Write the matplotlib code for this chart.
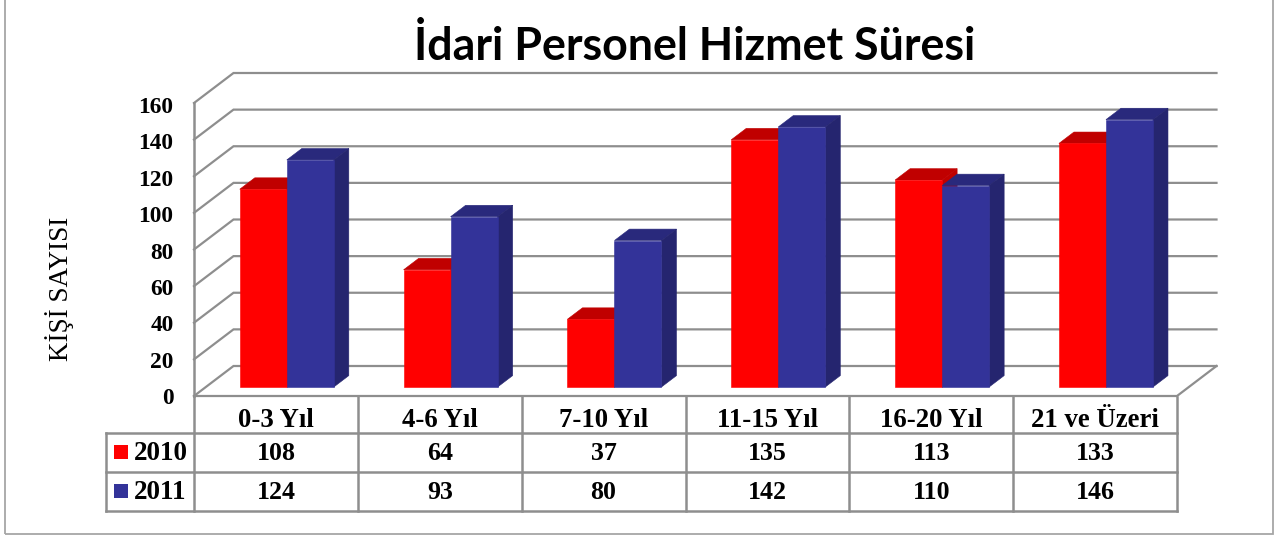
import matplotlib
matplotlib.use("Agg")
import matplotlib.pyplot as plt
from matplotlib.patches import Rectangle

categories = ["0-3 Yıl", "4-6 Yıl", "7-10 Yıl", "11-15 Yıl", "16-20 Yıl", "21 ve Üzeri"]
values_2010 = [108, 64, 37, 135, 113, 133]
values_2011 = [124, 93, 80, 142, 110, 146]
yticks = [0, 20, 40, 60, 80, 100, 120, 140, 160]

W, H = 1274, 535
grid_col = "#8e8e8e"
serif = "Liberation Serif"

fig = plt.figure(figsize=(W / 100, H / 100), dpi=100)

# outer frame
fig.add_artist(Rectangle((5 / W, 1 / H), 1268 / W, 540 / H, transform=fig.transFigure,
                         fill=False, ec="#a6a6a6", lw=1.3))

# front plane of the 3d box: one x unit = one category, y = value
left, right, bottom, top = 194, 1177, 396, 103
ax = fig.add_axes([left / W, 1 - bottom / H, (right - left) / W, (bottom - top) / H])
ax.set_xlim(0, 6)
ax.set_ylim(0, 160)
ax.axis("off")

# depth of the box in axis units
depth_x = 39.5 / ((right - left) / 6)
depth_y = 30 / ((bottom - top) / 160)


def project(x, y, d):
    return x + d * depth_x, y + d * depth_y


def face(pts, color, z):
    xs = [p[0] for p in pts]
    ys = [p[1] for p in pts]
    ax.fill(xs, ys, fc=color, ec=color, lw=0.4, zorder=z, clip_on=False)


def bar3d(x0, x1, val, front, side, topc, z):
    d0, d1 = 0.3, 0.68
    face([project(x0, val, d0), project(x1, val, d0), project(x1, val, d1), project(x0, val, d1)], topc, z)
    face([project(x1, 0, d0), project(x1, 0, d1), project(x1, val, d1), project(x1, val, d0)], side, z + 0.1)
    face([project(x0, 0, d0), project(x1, 0, d0), project(x1, val, d0), project(x0, val, d0)], front, z + 0.2)


# walls and floor
for t in yticks:
    x1, y1 = project(0, t, 1)
    x2, y2 = project(6, t, 1)
    ax.plot([0, x1, x2], [t, y1, y2], color=grid_col, lw=1.6, clip_on=False, zorder=1, solid_joinstyle="miter")
    ax.text(-0.125, t * 0.993 - 1.4, str(t), ha="right", va="center", family=serif, weight="bold", fontsize=16.8, color="black")
ax.plot([0, 0], [0, 160], color=grid_col, lw=1.8, clip_on=False, zorder=1)
ax.plot([0, 6, project(6, 0, 1)[0]], [0, 0, project(6, 0, 1)[1]], color=grid_col, lw=1.6, clip_on=False, zorder=1)

bar_w = 0.287
for i in range(6):
    c = i + 0.494
    z = 3 + i
    bar3d(c - bar_w, c, values_2010[i], "#ff0000", "#c00000", "#c00000", z)
    bar3d(c, c + bar_w, values_2011[i], "#333399", "#25256f", "#29297c", z + 0.5)

ax.text(-0.82, 58.7, "KİŞİ SAYISI", rotation=90, ha="center", va="center",
        family=serif, fontsize=19.5, color="black")

# data table under the box
tb_left = 106
tb_top, tb_bottom = 396.5, 511
tb = fig.add_axes([left / W, 1 - tb_bottom / H, (right - left) / W, (tb_bottom - tb_top) / H])
tb.set_xlim(0, 6)
row_px = [36.5, 38.5, 39]
tb.set_ylim(sum(row_px), 0)
tb.axis("off")
x_key = (tb_left - left) / ((right - left) / 6)
row1, row2, row3 = row_px[0], row_px[0] + row_px[1], sum(row_px)
tb.plot([x_key, 6], [row1, row1], color=grid_col, lw=1.8, clip_on=False)
tb.plot([x_key, 6], [row2, row2], color=grid_col, lw=1.8, clip_on=False)
tb.plot([x_key, 6], [row3, row3], color=grid_col, lw=1.8, clip_on=False)
tb.plot([x_key, x_key], [row1, row3], color=grid_col, lw=1.8, clip_on=False)
for k in range(7):
    tb.plot([k, k], [0, row3], color=grid_col, lw=1.8, clip_on=False)

for i, name in enumerate(categories):
    tb.text(i + 0.5, row1 / 2 + 6, name, ha="center", va="center", family=serif, weight="bold", fontsize=19.3)
    tb.text(i + 0.5, (row1 + row2) / 2 + 1, str(values_2010[i]), ha="center", va="center", family=serif, weight="bold", fontsize=18.6)
    tb.text(i + 0.5, (row2 + row3) / 2 + 1, str(values_2011[i]), ha="center", va="center", family=serif, weight="bold", fontsize=18.6)

unit = (right - left) / 6
for name, y0, col in [("2010", row1, "#ff0000"), ("2011", row2, "#333399")]:
    tb.add_patch(Rectangle((x_key + 8 / unit, y0 + 12), 14 / unit, 14, color=col, lw=0, clip_on=False))
    tb.text(x_key + 27.5 / unit, y0 + 20.5, name, ha="left", va="center", family=serif, weight="bold", fontsize=19.5)

fig.text(695 / W, 1 - 47 / H, "İdari Personel Hizmet Süresi", ha="center", va="center",
         family="Lato", weight="bold", fontsize=32.2, color="black")

fig.savefig("out.png", dpi=100)
